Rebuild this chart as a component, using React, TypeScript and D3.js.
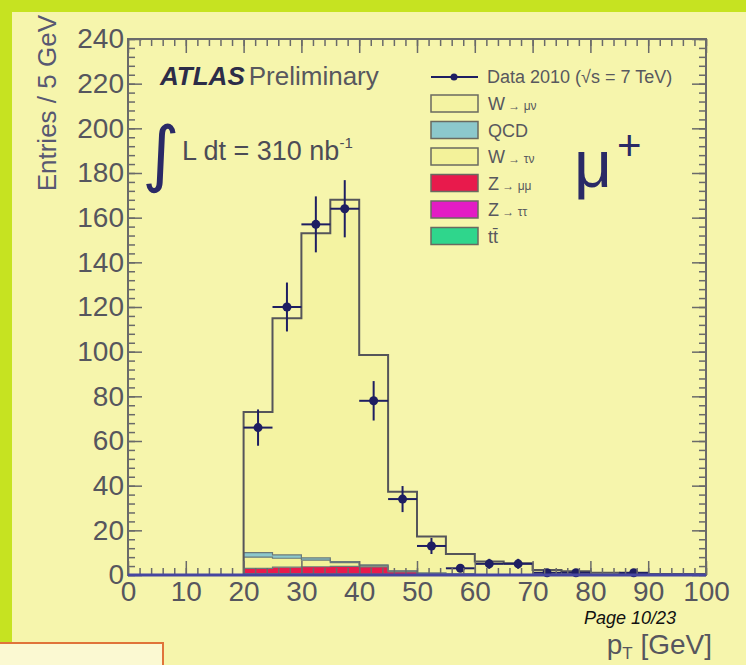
import React, { useRef, useEffect } from "react";
import * as d3 from "d3";

// bin low edges (5 GeV bins)
const binLow = [20, 25, 30, 35, 40, 45, 50, 55, 60, 65, 70, 75, 80, 85, 90, 95];
const binWidth = 5;

// MC stack components, entries per bin
const ttbar = [0.2, 0.2, 0.2, 0.2, 0.2, 0.1, 0.1, 0.1, 0.1, 0.1, 0, 0, 0, 0, 0, 0];
const ztautau = [0.4, 0.4, 0.3, 0.3, 0.2, 0.1, 0.1, 0, 0, 0, 0, 0, 0, 0, 0, 0];
const zmumu = [2.4, 2.9, 3.2, 3.4, 3.2, 1.2, 0.4, 0.2, 0.1, 0.1, 0.1, 0, 0, 0, 0, 0];
const wtaunu = [5.0, 4.0, 3.0, 1.6, 0.6, 0.3, 0.2, 0.1, 0, 0, 0, 0, 0, 0, 0, 0];
const qcd = [2.0, 1.5, 1.0, 0.5, 0.3, 0.2, 0.1, 0.1, 0, 0, 0, 0, 0, 0, 0, 0];
const wmunu = [63.0, 106.0, 145.3, 162.0, 94.0, 35.4, 16.3, 8.9, 5.8, 5.1, 2.1, 1.7, 1.0, 0.7, 0.5, 0.4];

// data 2010
const data2010 = [66, 120, 157, 164, 78, 34, 13, 3, 5, 5, 1, 1, 0, 1, 0, 0];

const yTicks = [0, 20, 40, 60, 80, 100, 120, 140, 160, 180, 200, 220, 240];
const xTicks = [0, 10, 20, 30, 40, 50, 60, 70, 80, 90, 100];

const legendLabels = ["W → μν", "QCD", "W → τν", "Z → μμ", "Z → ττ", "tt̄"];
const legendKeys = ["wmunu", "qcd", "wtaunu", "zmumu", "ztautau", "ttbar"];

const W = 746;
const H = 665;
const plot = { left: 128, right: 706, top: 39, bottom: 575 };
const font = "'Liberation Sans', Arial, sans-serif";

const colors: Record<string, string> = {
  ttbar: "#2fd68c",
  ztautau: "#e31cc4",
  zmumu: "#e81a4c",
  wtaunu: "#f3f29a",
  qcd: "#8cc8cc",
  wmunu: "#f4f3a2",
};

const App = () => {
  const svgRef = useRef<SVGSVGElement>(null);

  useEffect(() => {
    document.body.style.margin = "0";
    const svg = d3.select(svgRef.current);
    svg.selectAll("*").remove();

    const x = d3.scaleLinear().domain([0, 100]).range([plot.left, plot.right]);
    const y = d3.scaleLinear().domain([0, 240]).range([plot.bottom, plot.top]);

    // page background + green strips
    svg.append("rect").attr("width", W).attr("height", H).attr("fill", "#f6f5ac");
    svg.append("rect").attr("width", W).attr("height", 12).attr("fill", "#c6e321");
    svg.append("rect").attr("width", 12).attr("height", 643).attr("fill", "#c6e321");
    svg
      .append("rect")
      .attr("x", -2)
      .attr("y", 643)
      .attr("width", 165)
      .attr("height", 30)
      .attr("fill", "#fbf9d2")
      .attr("stroke", "#e0743a")
      .attr("stroke-width", 2);

    // stack, bottom to top
    const keys = ["ttbar", "ztautau", "zmumu", "wtaunu", "qcd", "wmunu"];
    const series: Record<string, number[]> = { ttbar, ztautau, zmumu, wtaunu, qcd, wmunu };
    const rows = binLow.map((lo, i) => {
      const r: any = { lo };
      keys.forEach((k) => (r[k] = series[k][i]));
      return r;
    });
    const stacked = d3.stack().keys(keys)(rows);

    const area = d3
      .area<any>()
      .x((d) => x(d.x))
      .y0((d) => y(d.y0))
      .y1((d) => y(d.y1))
      .curve(d3.curveStepAfter);
    const line = d3
      .line<any>()
      .x((d) => x(d.x))
      .y((d) => y(d.v))
      .curve(d3.curveStepAfter);

    stacked.forEach((layer) => {
      const pts = layer.map((d, i) => ({ x: binLow[i], y0: d[0], y1: d[1] }));
      const last = layer[layer.length - 1];
      pts.push({ x: binLow[binLow.length - 1] + binWidth, y0: last[0], y1: last[1] });
      svg.append("path").attr("d", area(pts)).attr("fill", colors[layer.key]);
    });
    stacked.forEach((layer) => {
      const top = layer.key === "wmunu";
      const pts = [{ x: binLow[0], v: 0 }, ...layer.map((d, i) => ({ x: binLow[i], v: d[1] }))];
      pts.push({ x: binLow[binLow.length - 1] + binWidth, v: layer[layer.length - 1][1] });
      pts.push({ x: binLow[binLow.length - 1] + binWidth, v: 0 });
      svg
        .append("path")
        .attr("d", line(pts))
        .attr("fill", "none")
        .attr("stroke", top ? "#55555a" : "#6a7a7a")
        .attr("stroke-width", top ? 2 : 1.2);
    });

    // data points
    const dataColor = "#1e1e62";
    const pts = data2010
      .map((n, i) => ({ n, lo: binLow[i] }))
      .filter((d) => d.n > 0);
    const g = svg.append("g");
    g.selectAll(".ex")
      .data(pts)
      .enter()
      .append("line")
      .attr("x1", (d) => x(d.lo))
      .attr("x2", (d) => x(d.lo + binWidth))
      .attr("y1", (d) => y(d.n))
      .attr("y2", (d) => y(d.n))
      .attr("stroke", dataColor)
      .attr("stroke-width", 2);
    g.selectAll(".ey")
      .data(pts)
      .enter()
      .append("line")
      .attr("x1", (d) => x(d.lo + binWidth / 2))
      .attr("x2", (d) => x(d.lo + binWidth / 2))
      .attr("y1", (d) => y(Math.max(0, d.n - Math.sqrt(d.n))))
      .attr("y2", (d) => y(d.n + Math.sqrt(d.n)))
      .attr("stroke", dataColor)
      .attr("stroke-width", 2);
    g.selectAll("circle")
      .data(pts)
      .enter()
      .append("circle")
      .attr("cx", (d) => x(d.lo + binWidth / 2))
      .attr("cy", (d) => y(d.n))
      .attr("r", 4.5)
      .attr("fill", dataColor);

    // axes
    const minorY = d3.range(0, 241, 4);
    const minorX = d3.range(0, 101, 2);
    const styleAxis = (sel: any) => {
      sel.select(".domain").remove();
      sel.selectAll("line").attr("stroke", "#6a6a6a").attr("stroke-width", 1.5);
      sel.selectAll("text").attr("font-family", font).attr("font-size", 28).attr("fill", "#56565e");
    };
    const blank = () => "";

    svg.append("g").attr("transform", `translate(${plot.left},0)`)
      .call(d3.axisLeft(y).tickValues(minorY).tickSize(-7).tickFormat(blank)).call(styleAxis);
    svg.append("g").attr("transform", `translate(${plot.left},0)`)
      .call(d3.axisLeft(y).tickValues(yTicks).tickSize(-14).tickPadding(4).tickFormat(d3.format("d"))).call(styleAxis);
    svg.append("g").attr("transform", `translate(${plot.right},0)`)
      .call(d3.axisRight(y).tickValues(minorY).tickSize(-7).tickFormat(blank)).call(styleAxis);
    svg.append("g").attr("transform", `translate(${plot.right},0)`)
      .call(d3.axisRight(y).tickValues(yTicks).tickSize(-14).tickFormat(blank)).call(styleAxis);

    svg.append("g").attr("transform", `translate(0,${plot.bottom})`)
      .call(d3.axisBottom(x).tickValues(minorX).tickSize(-7).tickFormat(blank)).call(styleAxis);
    svg.append("g").attr("transform", `translate(0,${plot.bottom})`)
      .call(d3.axisBottom(x).tickValues(xTicks).tickSize(-14).tickPadding(6).tickFormat(d3.format("d"))).call(styleAxis);
    svg.append("g").attr("transform", `translate(0,${plot.top})`)
      .call(d3.axisTop(x).tickValues(minorX).tickSize(-7).tickFormat(blank)).call(styleAxis);
    svg.append("g").attr("transform", `translate(0,${plot.top})`)
      .call(d3.axisTop(x).tickValues(xTicks).tickSize(-14).tickFormat(blank)).call(styleAxis);

    // frame
    svg
      .append("rect")
      .attr("x", plot.left)
      .attr("y", plot.top)
      .attr("width", plot.right - plot.left)
      .attr("height", plot.bottom - plot.top)
      .attr("fill", "none")
      .attr("stroke", "#6a6a6a")
      .attr("stroke-width", 2);
    svg
      .append("line")
      .attr("x1", plot.left)
      .attr("x2", plot.right)
      .attr("y1", plot.bottom)
      .attr("y2", plot.bottom)
      .attr("stroke", "#4646a0")
      .attr("stroke-width", 3);

    // axis titles
    svg
      .append("text")
      .attr("transform", "translate(56,15) rotate(-90)")
      .attr("text-anchor", "end")
      .attr("font-family", font)
      .attr("font-size", 26)
      .attr("fill", "#585872")
      .text("Entries / 5 GeV");
    const xt = svg
      .append("text")
      .attr("x", 712)
      .attr("y", 654)
      .attr("text-anchor", "end")
      .attr("font-family", font)
      .attr("font-size", 28)
      .attr("fill", "#56565e");
    xt.append("tspan").text("p");
    xt.append("tspan").attr("dy", 5).attr("font-size", 17).text("T");
    xt.append("tspan").attr("dy", -5).text(" [GeV]");

    svg
      .append("text")
      .attr("x", 676)
      .attr("y", 624)
      .attr("text-anchor", "end")
      .attr("font-family", font)
      .attr("font-style", "italic")
      .attr("font-size", 18)
      .attr("fill", "#111")
      .text("Page 10/23");

    // ATLAS label
    const at = svg
      .append("text")
      .attr("x", 160)
      .attr("y", 85)
      .attr("font-family", font)
      .attr("font-size", 26);
    at.append("tspan").attr("font-weight", "bold").attr("font-style", "italic").attr("fill", "#2c2c48").text("ATLAS");
    at.append("tspan").attr("dx", 4).attr("fill", "#58585e").text("Preliminary");

    svg
      .append("text")
      .attr("x", 142)
      .attr("y", 178)
      .attr("font-family", "'DejaVu Sans', sans-serif")
      .attr("font-size", 72)
      .attr("fill", "#2a2a66")
      .text("∫");
    const lum = svg
      .append("text")
      .attr("x", 182)
      .attr("y", 160)
      .attr("font-family", font)
      .attr("font-size", 27)
      .attr("fill", "#4c4c56");
    lum.append("tspan").text("L dt = 310 nb");
    lum.append("tspan").attr("dy", -12).attr("font-size", 15).text("-1");

    // mu+
    svg
      .append("text")
      .attr("x", 574)
      .attr("y", 187)
      .attr("font-family", font)
      .attr("font-size", 66)
      .attr("fill", "#2a2a66")
      .text("μ");
    svg
      .append("text")
      .attr("x", 617)
      .attr("y", 160)
      .attr("font-family", font)
      .attr("font-size", 42)
      .attr("fill", "#2a2a66")
      .text("+");

    // legend
    const lx = 431;
    const ly = 77;
    const rowH = 26.5;
    const legendText = "#58585e";
    svg.append("line").attr("x1", lx).attr("x2", lx + 47).attr("y1", ly).attr("y2", ly)
      .attr("stroke", dataColor).attr("stroke-width", 2);
    svg.append("circle").attr("cx", lx + 23).attr("cy", ly).attr("r", 3.5).attr("fill", dataColor);
    svg
      .append("text")
      .attr("x", lx + 56)
      .attr("y", ly + 6)
      .attr("font-family", font)
      .attr("font-size", 18)
      .attr("fill", legendText)
      .text("Data 2010 (√s = 7 TeV)");

    legendLabels.forEach((label, i) => {
      const cy = ly + 26 + i * rowH;
      svg
        .append("rect")
        .attr("x", lx)
        .attr("y", cy - 8)
        .attr("width", 47)
        .attr("height", 17)
        .attr("fill", colors[legendKeys[i]])
        .attr("stroke", "#6a6a60")
        .attr("stroke-width", 1.5);
      const t = svg
        .append("text")
        .attr("x", lx + 57)
        .attr("y", cy + 7)
        .attr("font-family", font)
        .attr("font-size", 18)
        .attr("fill", legendText);
      if (label.includes("→")) {
        const [a, b] = label.split(" → ");
        t.append("tspan").attr("font-size", 18).text(a);
        t.append("tspan").attr("font-size", 12).text(" → " + b);
      } else {
        t.text(label);
      }
    });
  }, []);

  return <svg ref={svgRef} width={W} height={H} style={{ display: "block" }}></svg>;
};

export default App;
